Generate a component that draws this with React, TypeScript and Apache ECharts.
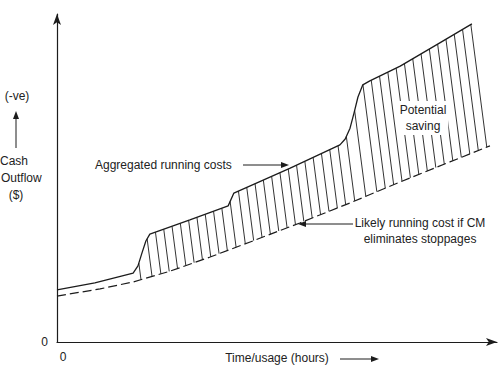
import React, { useEffect, useRef } from "react";
import * as echarts from "echarts";

// Aggregated running costs (solid) — [time, cash outflow]
const aggregatedX = [0, 8.6, 17.3, 18.4, 19.3, 20.2, 21.1, 30.2, 38.9, 40.2, 53.0, 64.3, 65.5, 66.6, 67.5, 68.4, 69.5, 71.1, 78.0, 87.0, 94.3];
const aggregatedY = [15.9, 18.0, 21.0, 23.2, 27.1, 30.8, 32.9, 37.2, 41.5, 45.4, 53.0, 60.1, 61.9, 65.2, 69.8, 74.7, 78.4, 79.6, 84.1, 91.2, 97.0];

// Likely running cost if CM eliminates stoppages (dashed)
const likelyX = [0, 9.8, 17.3, 25.7, 34.8, 43.9, 55.2, 66.6, 78.0, 89.3, 98.4];
const likelyY = [14.0, 16.2, 18.3, 21.6, 25.9, 30.5, 36.3, 42.4, 48.8, 54.9, 59.8];

// Hatched "potential saving" range along the time axis
const hatchRange = [18.6, 94.3];

const FONT = "'Liberation Sans', Arial, sans-serif";
const INK = "#1c1c1c";

export default function App() {
  const ref = useRef<HTMLDivElement>(null);

  useEffect(() => {
    if (!ref.current) return;
    const chart = echarts.init(ref.current, undefined, { renderer: "svg" });

    const solidData = aggregatedX.map((x, i) => [x, aggregatedY[i]]);
    const dashedData = likelyX.map((x, i) => [x, likelyY[i]]);

    const arrowHead = (tx: number, ty: number, dir: "r" | "l" | "u") => {
      const L = 8, W = 3;
      let pts: number[][];
      if (dir === "r") pts = [[tx, ty], [tx - L, ty - W], [tx - L, ty + W]];
      else if (dir === "l") pts = [[tx, ty], [tx + L, ty - W], [tx + L, ty + W]];
      else pts = [[tx, ty], [tx - W, ty + L], [tx + W, ty + L]];
      return { type: "polygon", z: 100, shape: { points: pts }, style: { fill: INK } };
    };
    const seg = (x1: number, y1: number, x2: number, y2: number) => ({
      type: "line", z: 100, shape: { x1, y1, x2, y2 }, style: { stroke: INK, lineWidth: 1 },
    });
    const txt = (x: number, y: number, text: string, align = "center", bg?: string) => ({
      type: "text", z: 110, x, y,
      style: {
        text, fill: "#222", font: `12px ${FONT}`, align, verticalAlign: "middle",
        lineHeight: 16, backgroundColor: bg, padding: bg ? [1, 2] : 0,
      },
    });

    const option: any = {
      animation: false,
      grid: { left: 57, right: 6, top: 14, bottom: 31, containLabel: false, outerBoundsMode: "none" },
      xAxis: {
        type: "value", min: 0, max: 100, interval: 100,
        axisLine: { show: true, symbol: ["none", "arrow"], symbolSize: [6, 11], lineStyle: { color: INK, width: 1.2 } },
        axisTick: { show: false }, splitLine: { show: false },
        axisLabel: {
          color: "#222", fontFamily: FONT, fontSize: 12, margin: 9, padding: [0, 0, 0, 12],
          formatter: (v: number) => (v === 0 ? "0" : ""),
        },
      },
      yAxis: {
        type: "value", min: 0, max: 100, interval: 100,
        axisLine: { show: true, symbol: ["none", "arrow"], symbolSize: [6, 11], lineStyle: { color: INK, width: 1.2 } },
        axisTick: { show: false }, splitLine: { show: false },
        axisLabel: {
          color: "#222", fontFamily: FONT, fontSize: 12, margin: 9, padding: [0, 0, 12, 0],
          formatter: (v: number) => (v === 0 ? "0" : ""),
        },
      },
      series: [
        {
          type: "custom", data: [[0]], z: 1, silent: true,
          renderItem: (params: any, api: any) => {
            const sp = solidData.map((p) => api.coord(p));
            const dp = dashedData.map((p) => api.coord(p));
            const interp = (pts: number[][], x: number) => {
              if (x <= pts[0][0]) return pts[0][1];
              for (let i = 1; i < pts.length; i++) {
                if (x <= pts[i][0]) {
                  const t = (x - pts[i - 1][0]) / (pts[i][0] - pts[i - 1][0]);
                  return pts[i - 1][1] + t * (pts[i][1] - pts[i - 1][1]);
                }
              }
              return pts[pts.length - 1][1];
            };
            const x0 = api.coord([hatchRange[0], 0])[0];
            const x1 = api.coord([hatchRange[1], 0])[0];
            const step = 8.3, k = 0.13;
            const children: any[] = [];
            for (let xt = x0; xt <= x1 + 0.5; xt += step) {
              const yt = interp(sp, xt);
              let xb = xt, yb = interp(dp, xt);
              for (let j = 0; j < 4; j++) { xb = xt + k * (yb - yt); yb = interp(dp, xb); }
              children.push({ type: "line", shape: { x1: xt, y1: yt, x2: xb, y2: yb }, style: { stroke: INK, lineWidth: 0.9 } });
            }
            return { type: "group", children };
          },
        },
        {
          type: "line", data: solidData, showSymbol: false, symbol: "none", z: 3,
          lineStyle: { color: INK, width: 1.3 },
        },
        {
          type: "line", data: dashedData, showSymbol: false, symbol: "none", z: 3,
          lineStyle: { color: INK, width: 1.2, type: [9, 4] },
        },
      ],
      graphic: [
        // y axis title
        txt(17, 96, "(-ve)"),
        seg(16, 148, 16, 118), arrowHead(16, 111, "u"),
        txt(14, 161, "Cash"),
        txt(1, 178, "Outflow", "left"),
        txt(16, 195, "($)"),
        // x axis title
        txt(277, 358, "Time/usage (hours)"),
        seg(340, 359, 372, 359), arrowHead(379, 359, "r"),
        // annotations
        txt(95, 165, "Aggregated running costs", "left"),
        seg(243, 165, 282, 165), arrowHead(289, 165, "r"),
        txt(423, 118, "Potential\nsaving", "center", "#ffffff"),
        txt(420, 231, "Likely running cost if CM\neliminates stoppages", "center"),
        seg(353, 224, 305, 224), arrowHead(298, 224, "l"),
      ],
    };

    chart.setOption(option);
    return () => chart.dispose();
  }, []);

  return <div ref={ref} style={{ width: 503, height: 373, position: "absolute", left: 0, top: 0 }} />;
}
